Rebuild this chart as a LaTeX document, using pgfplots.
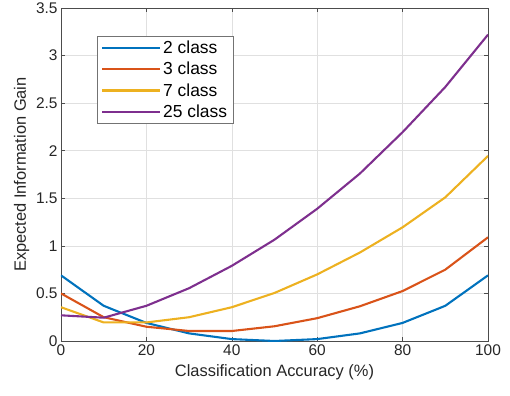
\documentclass[border=0pt]{standalone}
\usepackage{pgfplots}
\pgfplotsset{compat=1.18}
\usepackage{fontspec}
\setmainfont{Liberation Sans}
\definecolor{c1}{rgb}{0,0.447,0.741}
\definecolor{c2}{rgb}{0.85,0.325,0.098}
\definecolor{c3}{rgb}{0.929,0.694,0.125}
\definecolor{c4}{rgb}{0.494,0.184,0.556}
\begin{document}
\begin{tikzpicture}
\path[use as bounding box] (-61bp,-55bp) rectangle (449bp,341bp);
\begin{axis}[
 at={(0,0)}, anchor=south west,
 scale only axis, width=427bp, height=333bp,
 xmin=0, xmax=100, ymin=0, ymax=3.5,
 xtick={0,20,...,100}, ytick={0,0.5,...,3.5},
 grid=major, grid style={black!12, line width=0.5pt},
 axis line style={black!70, line width=0.6pt},
 tick style={black!70, line width=0.6pt},
 major tick length=4bp,
 tick align=inside,
 ticklabel style={font=\fontsize{15.5}{15.5}\selectfont, text=black!85},
 /pgf/number format/assume math mode=true,
 yticklabel style={/pgf/number format/fixed},
 xlabel={Classification Accuracy (\%)},
 ylabel={Expected Information Gain},
 xlabel style={yshift=-2bp},
 label style={font=\fontsize{16.5}{16.5}\selectfont, text=black!85},
 legend style={at={(0.084,0.916)}, anchor=north west, draw=black!55,
   font=\fontsize{17.5}{19}\selectfont, inner xsep=4bp, inner ysep=3bp, row sep=3bp},
 legend cell align=left,
 legend image code/.code={\draw[#1] (0bp,0bp) -- (58bp,0bp);},
]
\addplot[c1, line width=2.1pt] coordinates {(0,0.69)(10,0.37)(20,0.19)(30,0.08)(40,0.02)(50,0.0)(60,0.02)(70,0.08)(80,0.19)(90,0.37)(100,0.69)};
\addplot[c2, line width=2.1pt] coordinates {(0,0.50)(10,0.25)(20,0.15)(30,0.105)(40,0.105)(50,0.155)(60,0.24)(70,0.365)(80,0.525)(90,0.75)(100,1.09)};
\addplot[c3, line width=2.1pt] coordinates {(0,0.355)(10,0.195)(20,0.195)(30,0.25)(40,0.355)(50,0.505)(60,0.70)(70,0.93)(80,1.195)(90,1.51)(100,1.945)};
\addplot[c4, line width=2.1pt] coordinates {(0,0.27)(10,0.245)(20,0.37)(30,0.555)(40,0.79)(50,1.065)(60,1.39)(70,1.76)(80,2.195)(90,2.67)(100,3.22)};
\legend{2 class, 3 class, 7 class, 25 class}
\end{axis}
\end{tikzpicture}
\end{document}
